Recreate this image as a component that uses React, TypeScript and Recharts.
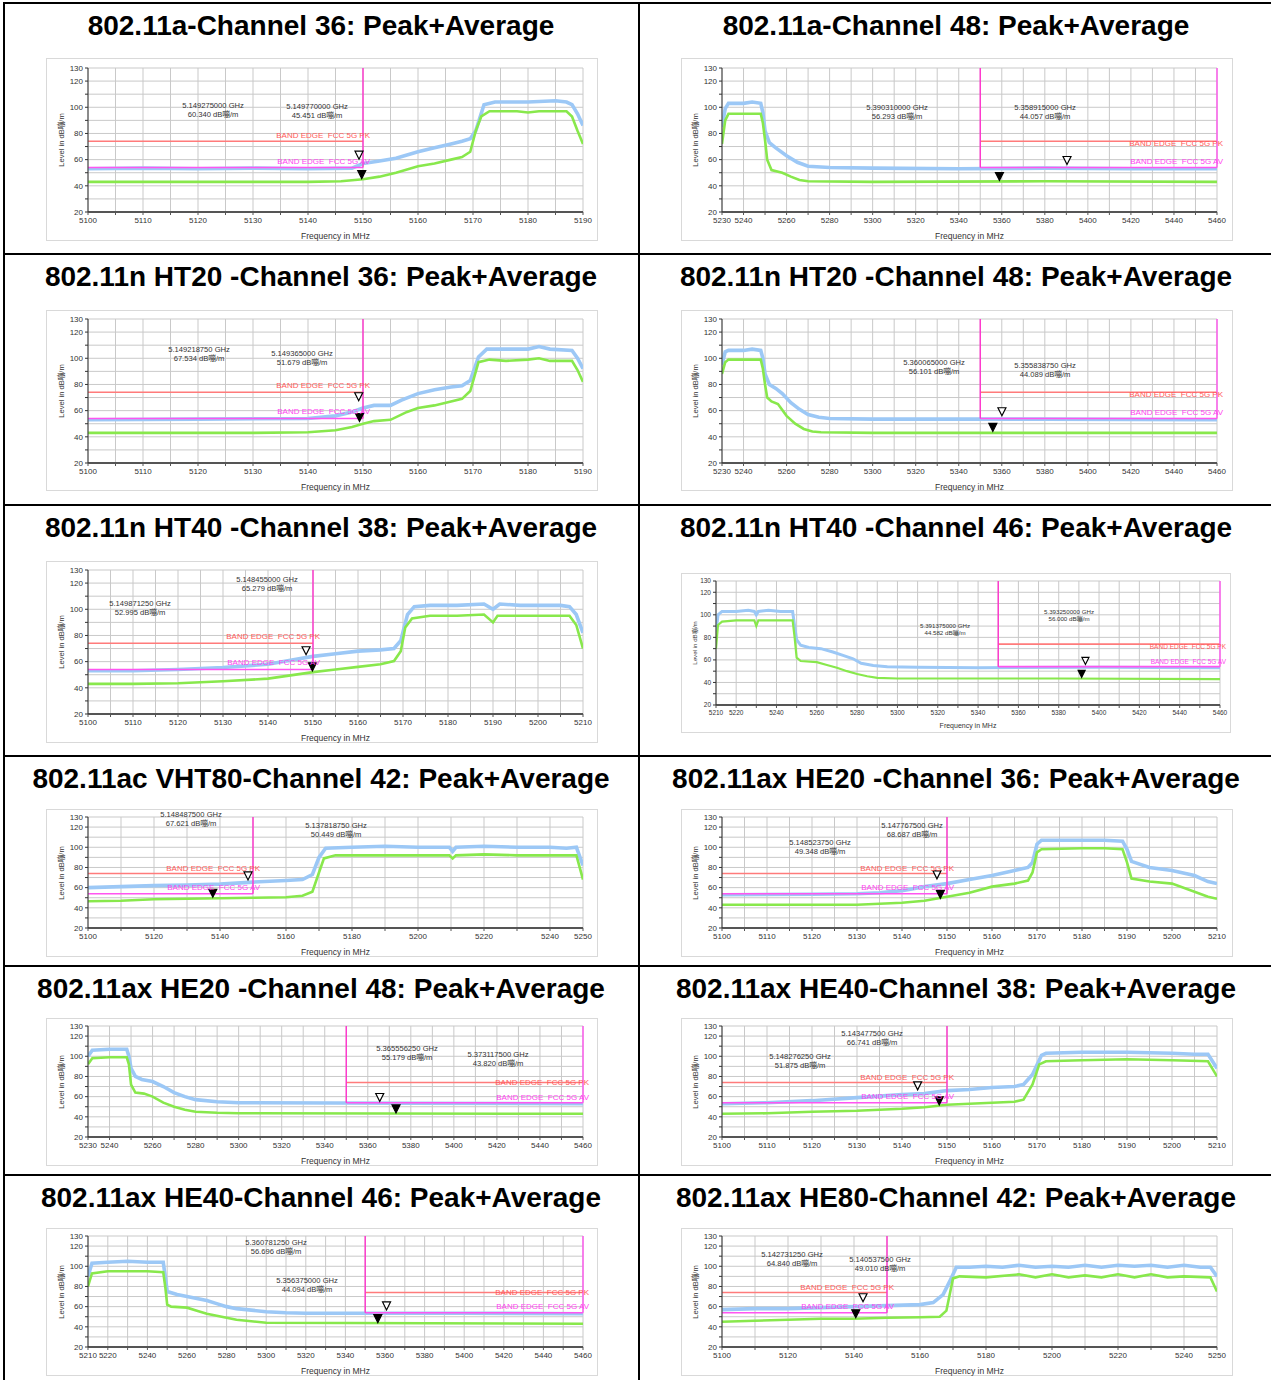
import React from 'react'
import { ComposedChart, Line, Scatter, XAxis, YAxis, CartesianGrid, ReferenceLine } from 'recharts'

// Band-edge scans, 12 panels. Peak trace (blue) + average trace (green), dBuV/m vs MHz.
// Values.

const UNIT = 'dB嘣/m'
const PK_LIMIT = 74
const AV_LIMIT = 54

const Y_GRID = [20, 30, 40, 50, 60, 70, 80, 90, 100, 110, 120, 130]
const Y_LABELS = [20, 40, 60, 80, 100, 120, 130]

const XG_5100_5190 = [5100, 5105, 5110, 5115, 5120, 5125, 5130, 5135, 5140, 5145, 5150, 5155, 5160, 5165, 5170, 5175, 5180, 5185, 5190]
const XL_5100_5190 = [5100, 5110, 5120, 5130, 5140, 5150, 5160, 5170, 5180, 5190]
const XG_5100_5210 = [5100, 5105, 5110, 5115, 5120, 5125, 5130, 5135, 5140, 5145, 5150, 5155, 5160, 5165, 5170, 5175, 5180, 5185, 5190, 5195, 5200, 5205, 5210]
const XL_5100_5210 = [5100, 5110, 5120, 5130, 5140, 5150, 5160, 5170, 5180, 5190, 5200, 5210]
const XG_5230_5460 = [5230, 5240, 5250, 5260, 5270, 5280, 5290, 5300, 5310, 5320, 5330, 5340, 5350, 5360, 5370, 5380, 5390, 5400, 5410, 5420, 5430, 5440, 5450, 5460]
const XL_5230_5460 = [5230, 5240, 5260, 5280, 5300, 5320, 5340, 5360, 5380, 5400, 5420, 5440, 5460]
const XG_5210_5460 = [5210, 5220, 5230, 5240, 5250, 5260, 5270, 5280, 5290, 5300, 5310, 5320, 5330, 5340, 5350, 5360, 5370, 5380, 5390, 5400, 5410, 5420, 5430, 5440, 5450, 5460]
const XL_5210_5460 = [5210, 5220, 5240, 5260, 5280, 5300, 5320, 5340, 5360, 5380, 5400, 5420, 5440, 5460]
const XG_5100_5250 = [5100, 5110, 5120, 5130, 5140, 5150, 5160, 5170, 5180, 5190, 5200, 5210, 5220, 5230, 5240, 5250]
const XL_5100_5250 = [5100, 5120, 5140, 5160, 5180, 5200, 5220, 5240, 5250]

// 802.11a ch36
const A36_PK_F = [5100, 5110, 5120, 5130, 5140, 5148, 5150, 5153, 5156, 5160, 5163, 5166, 5168, 5169.5, 5170.5, 5172, 5174, 5180, 5185, 5187, 5188, 5189, 5190]
const A36_PK = [53, 53.5, 53, 53.5, 53, 53.5, 57, 59, 61, 66, 69, 72, 74, 76, 82, 102, 104, 104, 105, 104, 102, 95, 86]
const A36_AV_F = [5100, 5120, 5140, 5146, 5150, 5153, 5156, 5160, 5163, 5166, 5168, 5169.5, 5170.5, 5171.5, 5173, 5178, 5180, 5182, 5187, 5188, 5189, 5190]
const A36_AV = [43, 43, 43, 43.5, 45, 47, 50, 55, 57, 60, 62, 66, 82, 93, 97, 97, 96, 97, 97, 93, 82, 72]
const A36_MK_F = [5149.275, 5149.77]
const A36_MK_V = [60.34, 45.451]

// 802.11a ch48
const A48_PK_F = [5230, 5231.5, 5233, 5240, 5244, 5248, 5249, 5250, 5252, 5255, 5260, 5265, 5270, 5280, 5300, 5340, 5380, 5420, 5460]
const A48_PK = [85, 99, 103, 103, 104, 103, 96, 82, 73, 69, 63, 58, 55, 54, 53.5, 53, 53.5, 53, 53]
const A48_AV_F = [5230, 5231.5, 5233, 5240, 5248, 5249, 5250, 5251, 5253, 5258, 5262, 5266, 5270, 5300, 5380, 5460]
const A48_AV = [72, 90, 95, 95, 95, 88, 75, 60, 52, 50, 47, 44.5, 43.5, 43, 43.5, 43]
const A48_MK_F = [5390.31, 5358.915]
const A48_MK_V = [56.293, 44.057]

// 802.11n HT20 ch36
const N20_36_PK_F = [5100, 5120, 5140, 5145, 5148, 5150, 5152, 5155, 5157, 5160, 5163, 5166, 5168, 5169.5, 5171, 5172.5, 5176, 5180, 5182, 5184, 5188, 5189, 5190]
const N20_36_PK = [53, 53.5, 54, 56, 59, 62, 64, 64, 68, 73, 76, 78, 79, 83, 101, 107, 107, 107, 109, 107, 106, 100, 92]
const N20_36_AV_F = [5100, 5130, 5140, 5145, 5148, 5150, 5152, 5155, 5158, 5160, 5163, 5166, 5168, 5169.5, 5171, 5173, 5176, 5180, 5182, 5184, 5188, 5189, 5190]
const N20_36_AV = [43, 43, 43.5, 45, 47.5, 50, 52, 53, 59, 62, 64, 67, 69, 75, 97, 99, 98, 99, 100, 98, 98, 91, 82]
const N20_36_MK_F = [5149.21875, 5149.365]
const N20_36_MK_V = [67.534, 51.679]

// 802.11n HT20 ch48
const N20_48_PK_F = [5230, 5231.5, 5233, 5240, 5244, 5248, 5249, 5250, 5252, 5255, 5258, 5262, 5266, 5270, 5275, 5280, 5300, 5380, 5460]
const N20_48_PK = [95, 105, 106, 106, 107, 106, 100, 88, 80, 77, 73, 66, 61, 57, 55, 54, 53.5, 53.5, 53]
const N20_48_AV_F = [5230, 5231.5, 5233, 5240, 5248, 5249, 5250, 5251, 5253, 5256, 5260, 5264, 5268, 5272, 5276, 5300, 5460]
const N20_48_AV = [88, 97, 99, 99, 99, 92, 80, 70, 67, 65, 56, 50, 46, 44, 43.5, 43, 43]
const N20_48_MK_F = [5360.065, 5355.83875]
const N20_48_MK_V = [56.101, 44.089]

// 802.11n HT40 ch38
const N40_38_PK_F = [5100, 5110, 5120, 5130, 5140, 5145, 5150, 5155, 5160, 5165, 5168, 5169.5, 5171, 5172.5, 5176, 5182, 5188, 5190, 5191.5, 5196, 5200, 5205, 5207, 5208.5, 5210]
const N40_38_PK = [53, 53, 54, 55.5, 58, 61, 64, 66, 68, 69, 70, 76, 96, 102, 103, 103, 104, 100, 104, 103, 103, 103, 102, 96, 82]
const N40_38_AV_F = [5100, 5110, 5120, 5130, 5140, 5145, 5150, 5155, 5160, 5165, 5168, 5169.5, 5170.5, 5172, 5176, 5182, 5188, 5190, 5191, 5196, 5200, 5207, 5208.5, 5210]
const N40_38_AV = [43, 43, 43.5, 45, 47, 49.5, 52, 54, 56, 58, 60.5, 68, 86, 93, 95, 95, 96, 90, 95, 95, 95, 95, 88, 70]
const N40_38_MK_F = [5148.455, 5149.87125]
const N40_38_MK_V = [65.279, 52.995]

// 802.11n HT40 ch46
const N40_46_PK_F = [5210, 5211, 5213, 5220, 5226, 5229, 5230, 5231, 5236, 5242, 5248, 5249, 5250, 5252, 5256, 5262, 5268, 5273, 5278, 5282, 5288, 5295, 5310, 5340, 5400, 5460]
const N40_46_PK = [85, 100, 103, 103, 104, 103, 100, 103, 104, 103, 103, 90, 78, 73, 71, 70, 67, 64, 61, 57, 55, 54, 53.5, 53, 53.5, 53]
const N40_46_AV_F = [5210, 5211, 5213, 5220, 5226, 5229, 5230, 5231, 5236, 5242, 5248, 5249, 5250, 5252, 5260, 5265, 5270, 5275, 5280, 5285, 5290, 5300, 5380, 5460]
const N40_46_AV = [70, 91, 94, 95, 95, 95, 90, 95, 95, 95, 95, 80, 62, 59, 58, 55.5, 53, 50, 47.5, 45.5, 44, 43.5, 43.5, 43]
const N40_46_MK_F = [5393.25, 5391.375]
const N40_46_MK_V = [56.0, 44.582]

// 802.11ac VHT80 ch42
const AC80_PK_F = [5100, 5110, 5120, 5130, 5140, 5150, 5160, 5165, 5168, 5170, 5172, 5180, 5190, 5200, 5209.5, 5210.5, 5211.5, 5220, 5230, 5240, 5245, 5248, 5250]
const AC80_PK = [60, 61, 62, 62.5, 63.5, 65.5, 67, 68, 73, 90, 99, 100, 101, 100, 100, 96, 100, 101, 100, 100, 99, 100, 82]
const AC80_AV_F = [5100, 5110, 5120, 5130, 5140, 5150, 5160, 5165, 5168, 5170, 5171.5, 5175, 5190, 5209.5, 5210.5, 5211.5, 5220, 5230, 5240, 5248, 5250]
const AC80_AV = [46.5, 47, 48.5, 49, 49.5, 50, 50.5, 52, 56, 75, 89, 92, 92, 92, 89, 92, 93, 92, 92, 92, 68]
const AC80_MK_F = [5148.4875, 5137.81875]
const AC80_MK_V = [67.621, 50.449]

// 802.11ax HE20 ch36
const HE20_36_PK_F = [5100, 5120, 5130, 5135, 5140, 5145, 5150, 5155, 5160, 5165, 5168, 5169, 5170, 5171, 5180, 5185, 5189, 5190, 5191, 5195, 5200, 5205, 5208, 5210]
const HE20_36_PK = [53, 53.5, 54, 55, 57, 61, 64, 68, 72, 77, 80, 85, 103, 107, 107, 107, 106, 98, 86, 80, 77, 72, 66, 64]
const HE20_36_AV_F = [5100, 5130, 5140, 5145, 5150, 5155, 5160, 5165, 5168, 5169, 5170, 5171, 5180, 5185, 5189, 5190, 5191, 5195, 5200, 5205, 5208, 5210]
const HE20_36_AV = [43, 43, 45, 47, 51, 55, 61, 64, 67, 75, 95, 98, 99, 99, 98, 85, 69, 66, 64, 56, 51, 49]
const HE20_36_MK_F = [5147.7675, 5148.52375]
const HE20_36_MK_V = [68.687, 49.348]

// 802.11ax HE20 ch48
const HE20_48_PK_F = [5230, 5232, 5240, 5248, 5249, 5250, 5252, 5255, 5260, 5265, 5270, 5275, 5280, 5290, 5300, 5380, 5460]
const HE20_48_PK = [100, 106, 107, 107, 100, 88, 80, 77, 75, 70, 64, 60, 57, 55, 54, 53.5, 53]
const HE20_48_AV_F = [5230, 5232, 5240, 5248, 5249, 5250, 5252, 5256, 5260, 5265, 5270, 5275, 5280, 5290, 5300, 5460]
const HE20_48_AV = [92, 98, 99, 99, 92, 72, 64, 63, 60, 54, 50, 47, 45, 44, 43.5, 43]
const HE20_48_MK_F = [5365.55625, 5373.1175]
const HE20_48_MK_V = [55.179, 43.82]

// 802.11ax HE40 ch38
const HE40_38_PK_F = [5100, 5110, 5120, 5130, 5140, 5145, 5150, 5155, 5160, 5165, 5167, 5169, 5171, 5172, 5180, 5190, 5200, 5205, 5208, 5210]
const HE40_38_PK = [53, 54, 56, 59, 62, 63, 66, 67, 69, 70, 72, 82, 101, 103, 104, 104, 103, 102, 102, 88]
const HE40_38_AV_F = [5100, 5110, 5120, 5130, 5140, 5145, 5150, 5155, 5160, 5165, 5167, 5169, 5170.5, 5172, 5180, 5190, 5200, 5208, 5210]
const HE40_38_AV = [43, 43.5, 45, 46, 48, 49.5, 52, 53, 54, 55, 57, 72, 92, 95, 96, 97, 96, 95, 80]
const HE40_38_MK_F = [5143.4775, 5148.27625]
const HE40_38_MK_V = [66.741, 51.875]

// 802.11ax HE40 ch46
const HE40_46_PK_F = [5210, 5212, 5220, 5230, 5240, 5248, 5249, 5250, 5255, 5260, 5265, 5270, 5275, 5280, 5285, 5290, 5300, 5310, 5320, 5400, 5460]
const HE40_46_PK = [90, 103, 104, 105, 104, 104, 90, 75, 72, 70, 68, 66, 63, 60, 58, 57, 55, 54, 53.5, 53.5, 53]
const HE40_46_AV_F = [5210, 5212, 5220, 5240, 5248, 5249, 5250, 5252, 5260, 5265, 5270, 5275, 5280, 5285, 5290, 5300, 5460]
const HE40_46_AV = [80, 93, 95, 95, 94, 80, 62, 60, 59, 56, 53, 51, 49, 47, 46, 44, 43]
const HE40_46_MK_F = [5360.78125, 5356.375]
const HE40_46_MK_V = [56.696, 44.094]

// 802.11ax HE80 ch42
const HE80_PK_F = [5100, 5110, 5120, 5130, 5140, 5150, 5160, 5164, 5167, 5169, 5171, 5175, 5180, 5185, 5190, 5195, 5200, 5205, 5210, 5215, 5220, 5225, 5230, 5235, 5240, 5245, 5248, 5250]
const HE80_PK = [57, 58, 58, 59, 60, 61, 62, 64, 72, 85, 99, 99, 100, 99, 101, 99, 100, 99, 101, 99, 101, 100, 101, 99, 101, 99, 99, 90]
const HE80_AV_F = [5100, 5110, 5120, 5130, 5140, 5150, 5160, 5166, 5168, 5170, 5172, 5180, 5190, 5195, 5200, 5205, 5210, 5215, 5220, 5225, 5230, 5235, 5240, 5248, 5250]
const HE80_AV = [45, 46, 47, 48, 48, 49, 49.5, 50, 56, 88, 90, 89, 92, 89, 92, 89, 91, 89, 92, 89, 92, 89, 90, 89, 75]
const HE80_MK_F = [5142.73125, 5140.5375]
const HE80_MK_V = [64.84, 49.01]

const FONT = '"Liberation Sans", Arial, "Noto Sans CJK SC", sans-serif'
const PK_COLOR = '#9cc8f6'
const AV_COLOR = '#88e84c'

type PanelCfg = {
  title: string
  tx: number; ty: number
  bx: number; by: number; bw: number; bh: number
  l: number; t: number; r: number; b: number
  x0: number; x1: number
  xGrid: number[]; xLab: number[]
  pkF: number[]; pk: number[]; avF: number[]; av: number[]
  mkF: number[]; mkV: number[]
  edge: number; high: boolean
  ann: [number, number][]
  fs: number
  pkDy: number; avDy: number
}

const toXY = (f: number[], v: number[]) => f.map((x, i) => ({ x, y: v[i] }))

function Tri({ cx, cy, filled, s }: { cx: number; cy: number; filled: boolean; s: number }) {
  return (
    <path
      d={`M${cx - s / 2},${cy - s}L${cx + s / 2},${cy - s}L${cx},${cy}Z`}
      fill={filled ? '#000' : '#fff'}
      stroke="#000"
      strokeWidth={1.2}
    />
  )
}

function Txt({ x, y, fs, color = '#333', anchor = 'center', children }: any) {
  const tx = anchor === 'center' ? '-50%' : anchor === 'end' ? '-100%' : '0'
  return (
    <div
      style={{
        position: 'absolute', left: x, top: y, transform: `translate(${tx},-50%)`,
        fontSize: fs, lineHeight: 1, color, whiteSpace: 'pre', fontFamily: FONT,
      }}
    >
      {children}
    </div>
  )
}

function Panel({ c }: { c: PanelCfg }) {
  const py = (v: number) => c.b - ((v - 20) / 110) * (c.b - c.t)
  const px = (f: number) => c.l + ((f - c.x0) / (c.x1 - c.x0)) * (c.r - c.l)
  const fs = c.fs
  const small = fs < 7
  const tri = small ? 7 : 8
  const yTick = (p: any) =>
    Y_LABELS.includes(p.payload.value) ? (
      <text x={p.x} y={p.y} dy={fs * 0.35} textAnchor="end" fontSize={fs} fill="#333" fontFamily={FONT}>
        {p.payload.value}
      </text>
    ) : <g />
  const xTick = (p: any) =>
    c.xLab.includes(p.payload.value) ? (
      <text x={p.x} y={p.y} dy={fs * 0.75} textAnchor="middle" fontSize={fs} fill="#333" fontFamily={FONT}>
        {p.payload.value}
      </text>
    ) : <g />

  const lo = c.high ? c.edge : c.x0
  const hi = c.high ? c.x1 : c.edge
  const labRight = c.high ? c.r + 6 : px(c.edge) + 7
  const lineH = fs * 1.15

  return (
    <>
      <div style={{ position: 'absolute', left: c.bx, top: c.by, width: c.bw, height: c.bh, border: '1px solid #d9d9d9', boxSizing: 'border-box' }} />
      <div style={{ position: 'absolute', left: c.bx, top: c.by }}>
        <ComposedChart
          width={c.bw}
          height={c.bh}
          margin={{ top: c.t - c.by, right: c.bx + c.bw - c.r, bottom: 0, left: 0 }}
        >
          <CartesianGrid horizontalValues={Y_GRID} verticalValues={c.xGrid} stroke="#c9c9c9" strokeWidth={1} />
          <XAxis
            type="number"
            dataKey="x"
            domain={[c.x0, c.x1]}
            allowDataOverflow
            ticks={c.xGrid}
            interval={0}
            height={c.by + c.bh - c.b}
            tick={xTick}
            tickSize={3}
            axisLine={{ stroke: '#555', strokeWidth: 2 }}
            tickLine={{ stroke: '#555' }}
          />
          <YAxis
            type="number"
            dataKey="y"
            domain={[20, 130]}
            allowDataOverflow
            ticks={Y_GRID}
            interval={0}
            width={c.l - c.bx}
            tick={yTick}
            tickSize={3}
            axisLine={{ stroke: '#333' }}
            tickLine={{ stroke: '#333' }}
          />
          <Line data={toXY(c.pkF, c.pk)} dataKey="y" stroke={PK_COLOR} strokeWidth={small ? 3 : 3.6} dot={false} isAnimationActive={false} />
          <Line data={toXY(c.avF, c.av)} dataKey="y" stroke={AV_COLOR} strokeWidth={small ? 2.2 : 2.6} dot={false} isAnimationActive={false} />
          <ReferenceLine segment={[{ x: lo, y: PK_LIMIT }, { x: hi, y: PK_LIMIT }]} stroke="#ff7b7b" strokeWidth={1.6} />
          <ReferenceLine segment={[{ x: lo, y: AV_LIMIT }, { x: hi, y: AV_LIMIT }]} stroke="#ff55f0" strokeWidth={1.6} />
          <ReferenceLine segment={[{ x: c.edge, y: 130 }, { x: c.edge, y: AV_LIMIT }]} stroke="#ff33cc" strokeWidth={1.4} />
          {c.high && (
            <ReferenceLine segment={[{ x: c.x1, y: 130 }, { x: c.x1, y: AV_LIMIT }]} stroke="#ff55ee" strokeWidth={1.4} />
          )}
          <Scatter
            data={[{ x: c.mkF[0], y: c.mkV[0] }]}
            isAnimationActive={false}
            shape={(p: any) => <Tri cx={p.cx} cy={p.cy} filled={false} s={tri} />}
          />
          <Scatter
            data={[{ x: c.mkF[1], y: c.mkV[1] }]}
            isAnimationActive={false}
            shape={(p: any) => <Tri cx={p.cx} cy={p.cy} filled s={tri} />}
          />
        </ComposedChart>
      </div>

      {/* limit labels */}
      <Txt x={labRight} y={py(PK_LIMIT) + c.pkDy} fs={fs} color="#ff5a5a" anchor="end">BAND EDGE  FCC 5G PK</Txt>
      <Txt x={labRight} y={py(AV_LIMIT) + c.avDy} fs={fs} color="#ff44f0" anchor="end">BAND EDGE  FCC 5G AV</Txt>

      {/* marker readouts */}
      {c.ann.map(([ax, ay], i) => (
        <React.Fragment key={i}>
          <Txt x={ax} y={ay} fs={fs * 0.95}>{`${(c.mkF[i] / 1000).toFixed(9)} GHz`}</Txt>
          <Txt x={ax} y={ay + lineH} fs={fs * 0.95}>{`${c.mkV[i].toFixed(3)} ${UNIT}`}</Txt>
        </React.Fragment>
      ))}

      {/* axis titles */}
      <Txt x={(c.l + c.r) / 2} y={c.b + (small ? 20 : 24)} fs={fs + 0.5}>Frequency in MHz</Txt>
      <div
        style={{
          position: 'absolute', left: c.l - (small ? 21 : 26), top: (c.t + c.b) / 2,
          transform: 'translate(-50%,-50%) rotate(-90deg)', fontSize: fs * 0.95, lineHeight: 1,
          color: '#333', whiteSpace: 'pre', fontFamily: FONT,
        }}
      >
        {`Level in ${UNIT}`}
      </div>

      <div
        style={{
          position: 'absolute', left: c.tx, top: c.ty, transform: 'translate(-50%,-50%)',
          fontSize: 28, fontWeight: 'bold', fontFamily: FONT, whiteSpace: 'pre', lineHeight: 1, color: '#000',
        }}
      >
        {c.title}
      </div>
    </>
  )
}

const LX = { tx: 321, bx: 46, bw: 552, l: 88, r: 583 }
const RX = { tx: 956, bx: 681, bw: 552, l: 722, r: 1217 }
const ROW1 = { ty: 26, by: 58, bh: 183, t: 68, b: 212 }
const ROW2 = { ty: 277, by: 310, bh: 181, t: 319, b: 463 }
const ROW3 = { ty: 528, by: 561, bh: 182, t: 570, b: 714 }
const ROW4 = { ty: 779, by: 809, bh: 148, t: 817, b: 928 }
const ROW5 = { ty: 989, by: 1018, bh: 148, t: 1026, b: 1137 }
const ROW6 = { ty: 1198, by: 1228, bh: 148, t: 1236, b: 1347 }

const PANELS: PanelCfg[] = [
  {
    title: '802.11a-Channel 36: Peak+Average', ...LX, ...ROW1, x0: 5100, x1: 5190, xGrid: XG_5100_5190, xLab: XL_5100_5190,
    pkF: A36_PK_F, pk: A36_PK, avF: A36_AV_F, av: A36_AV, mkF: A36_MK_F, mkV: A36_MK_V,
    edge: 5150, high: false, ann: [[213, 106], [317, 107]], fs: 8, pkDy: -5, avDy: -5,
  },
  {
    title: '802.11a-Channel 48: Peak+Average', ...RX, ...ROW1, x0: 5230, x1: 5460, xGrid: XG_5230_5460, xLab: XL_5230_5460,
    pkF: A48_PK_F, pk: A48_PK, avF: A48_AV_F, av: A48_AV, mkF: A48_MK_F, mkV: A48_MK_V,
    edge: 5350, high: true, ann: [[897, 108], [1045, 108]], fs: 8, pkDy: 3, avDy: -5,
  },
  {
    title: '802.11n HT20 -Channel 36: Peak+Average', ...LX, ...ROW2, x0: 5100, x1: 5190, xGrid: XG_5100_5190, xLab: XL_5100_5190,
    pkF: N20_36_PK_F, pk: N20_36_PK, avF: N20_36_AV_F, av: N20_36_AV, mkF: N20_36_MK_F, mkV: N20_36_MK_V,
    edge: 5150, high: false, ann: [[199, 350], [302, 354]], fs: 8, pkDy: -6, avDy: -6,
  },
  {
    title: '802.11n HT20 -Channel 48: Peak+Average', ...RX, ...ROW2, x0: 5230, x1: 5460, xGrid: XG_5230_5460, xLab: XL_5230_5460,
    pkF: N20_48_PK_F, pk: N20_48_PK, avF: N20_48_AV_F, av: N20_48_AV, mkF: N20_48_MK_F, mkV: N20_48_MK_V,
    edge: 5350, high: true, ann: [[934, 363], [1045, 366]], fs: 8, pkDy: 3, avDy: -5,
  },
  {
    title: '802.11n HT40 -Channel 38: Peak+Average', ...LX, ...ROW3, x0: 5100, x1: 5210, xGrid: XG_5100_5210, xLab: XL_5100_5210,
    pkF: N40_38_PK_F, pk: N40_38_PK, avF: N40_38_AV_F, av: N40_38_AV, mkF: N40_38_MK_F, mkV: N40_38_MK_V,
    edge: 5150, high: false, ann: [[267, 580], [140, 604]], fs: 8, pkDy: -6, avDy: -6,
  },
  {
    title: '802.11n HT40 -Channel 46: Peak+Average', tx: 956, ty: 528, bx: 681, by: 573, bw: 550, bh: 160, l: 716, t: 581, r: 1220, b: 705,
    x0: 5210, x1: 5460, xGrid: XG_5210_5460, xLab: XL_5210_5460,
    pkF: N40_46_PK_F, pk: N40_46_PK, avF: N40_46_AV_F, av: N40_46_AV, mkF: N40_46_MK_F, mkV: N40_46_MK_V,
    edge: 5350, high: true, ann: [[1069, 612], [945, 626]], fs: 6.5, pkDy: 3, avDy: -5,
  },
  {
    title: '802.11ac VHT80-Channel 42: Peak+Average', ...LX, ...ROW4, x0: 5100, x1: 5250, xGrid: XG_5100_5250, xLab: XL_5100_5250,
    pkF: AC80_PK_F, pk: AC80_PK, avF: AC80_AV_F, av: AC80_AV, mkF: AC80_MK_F, mkV: AC80_MK_V,
    edge: 5150, high: false, ann: [[191, 815], [336, 826]], fs: 8, pkDy: -5, avDy: -6,
  },
  {
    title: '802.11ax HE20 -Channel 36: Peak+Average', ...RX, ...ROW4, x0: 5100, x1: 5210, xGrid: XG_5100_5210, xLab: XL_5100_5210,
    pkF: HE20_36_PK_F, pk: HE20_36_PK, avF: HE20_36_AV_F, av: HE20_36_AV, mkF: HE20_36_MK_F, mkV: HE20_36_MK_V,
    edge: 5150, high: false, ann: [[912, 826], [820, 843]], fs: 8, pkDy: -5, avDy: -6,
  },
  {
    title: '802.11ax HE20 -Channel 48: Peak+Average', ...LX, ...ROW5, x0: 5230, x1: 5460, xGrid: XG_5230_5460, xLab: XL_5230_5460,
    pkF: HE20_48_PK_F, pk: HE20_48_PK, avF: HE20_48_AV_F, av: HE20_48_AV, mkF: HE20_48_MK_F, mkV: HE20_48_MK_V,
    edge: 5350, high: true, ann: [[407, 1049], [498, 1055]], fs: 8, pkDy: 0, avDy: -5,
  },
  {
    title: '802.11ax HE40-Channel 38: Peak+Average', ...RX, ...ROW5, x0: 5100, x1: 5210, xGrid: XG_5100_5210, xLab: XL_5100_5210,
    pkF: HE40_38_PK_F, pk: HE40_38_PK, avF: HE40_38_AV_F, av: HE40_38_AV, mkF: HE40_38_MK_F, mkV: HE40_38_MK_V,
    edge: 5150, high: false, ann: [[872, 1034], [800, 1057]], fs: 8, pkDy: -5, avDy: -6,
  },
  {
    title: '802.11ax HE40-Channel 46: Peak+Average', ...LX, ...ROW6, x0: 5210, x1: 5460, xGrid: XG_5210_5460, xLab: XL_5210_5460,
    pkF: HE40_46_PK_F, pk: HE40_46_PK, avF: HE40_46_AV_F, av: HE40_46_AV, mkF: HE40_46_MK_F, mkV: HE40_46_MK_V,
    edge: 5350, high: true, ann: [[276, 1243], [307, 1281]], fs: 8, pkDy: 0, avDy: -6,
  },
  {
    title: '802.11ax HE80-Channel 42: Peak+Average', ...RX, ...ROW6, x0: 5100, x1: 5250, xGrid: XG_5100_5250, xLab: XL_5100_5250,
    pkF: HE80_PK_F, pk: HE80_PK, avF: HE80_AV_F, av: HE80_AV, mkF: HE80_MK_F, mkV: HE80_MK_V,
    edge: 5150, high: false, ann: [[792, 1255], [880, 1260]], fs: 8, pkDy: -5, avDy: -6,
  },
]

const H_RULES = [3, 254, 505, 756, 966, 1175]

export default function App() {
  return (
    <div style={{ position: 'absolute', left: 0, top: 0, width: 1271, height: 1380, overflow: 'hidden', background: '#fff' }}>
      {H_RULES.map((y) => (
        <div key={y} style={{ position: 'absolute', left: 3, top: y - 1, width: 1268, height: 2, background: '#000' }} />
      ))}
      <div style={{ position: 'absolute', left: 3, top: 2, width: 2, height: 1378, background: '#000' }} />
      <div style={{ position: 'absolute', left: 638, top: 2, width: 2, height: 1378, background: '#000' }} />
      {PANELS.map((c, i) => <Panel key={i} c={c} />)}
    </div>
  )
}
